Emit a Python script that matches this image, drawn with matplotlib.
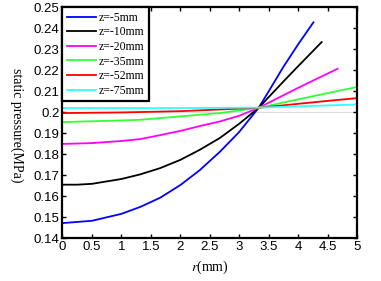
import matplotlib
matplotlib.use("Agg")
from matplotlib import pyplot as plt

labels = ["z=-5mm", "z=-10mm", "z=-20mm", "z=-35mm", "z=-52mm", "z=-75mm"]
colors = ["#0000ff", "#000000", "#ff00ff", "#33ff33", "#ff0000", "#33ffff"]

r_5 = [0, 0.5, 1, 1.32, 1.66, 2, 2.33, 2.67, 3, 3.33, 3.5, 3.75, 4, 4.26]
p_5 = [0.1471, 0.1482, 0.1515, 0.1548, 0.1592, 0.1652, 0.1723, 0.1810,
       0.1905, 0.2020, 0.2098, 0.2215, 0.2322, 0.2427]

r_10 = [0, 0.25, 0.5, 1, 1.32, 1.66, 2, 2.33, 2.67, 3, 3.33, 3.75, 4, 4.4]
p_10 = [0.1654, 0.1654, 0.1658, 0.1681, 0.1703, 0.1733, 0.1772, 0.1820,
        0.1876, 0.1944, 0.2020, 0.2145, 0.2218, 0.2333]

r_20 = [0, 0.5, 1, 1.32, 1.66, 2, 2.33, 2.67, 3, 3.33, 4, 4.67]
p_20 = [0.1848, 0.1852, 0.1862, 0.1871, 0.1890, 0.1910, 0.1933, 0.1955,
        0.1982, 0.2020, 0.2115, 0.2206]

r_35 = [0, 1, 1.32, 2, 2.67, 3.33, 4, 4.5, 5]
p_35 = [0.1952, 0.1960, 0.1963, 0.1979, 0.1995, 0.2020, 0.2060, 0.2090, 0.2119]

r_52 = [0, 1, 2, 3.33, 4, 4.5, 5]
p_52 = [0.1995, 0.1998, 0.2004, 0.2020, 0.2039, 0.2053, 0.2066]

r_75 = [0, 1, 2, 3.33, 4, 5]
p_75 = [0.2019, 0.2019, 0.2019, 0.2021, 0.2027, 0.2036]

x_ticks = [0, 0.5, 1, 1.5, 2, 2.5, 3, 3.5, 4, 4.5, 5]
y_ticks = [0.14, 0.15, 0.16, 0.17, 0.18, 0.19, 0.2, 0.21, 0.22, 0.23, 0.24, 0.25]

series = [(r_5, p_5), (r_10, p_10), (r_20, p_20), (r_35, p_35), (r_52, p_52), (r_75, p_75)]

plt.rcParams["font.family"] = ["Liberation Sans", "DejaVu Sans"]

fig = plt.figure(figsize=(3.81, 2.81), dpi=100)
ax = fig.add_axes([0.164, 0.153, 0.773, 0.822])

ax.axhline(0.2, color="#dddddd", lw=0.8, zorder=0)

for (r, p), c, lab in zip(series, colors, labels):
    ax.plot(r, p, color=c, lw=1.3, label=lab, solid_joinstyle="round")

ax.set_xlim(0, 5)
ax.set_ylim(0.14, 0.25)
ax.set_xticks(x_ticks)
ax.set_xticklabels([("%g" % t) for t in x_ticks])
ax.set_yticks(y_ticks)
ax.set_yticklabels([("%g" % t) for t in y_ticks])
ax.tick_params(direction="in", length=3, width=1, top=True, right=True,
               labelsize=9.5, pad=2)
for s in ax.spines.values():
    s.set_linewidth(1.6)

ax.set_xlabel(r"$r$(mm)", fontsize=10, family="Liberation Serif", labelpad=4)
ax.xaxis.label.set_math_fontfamily("stix")

fig.text(0.045, 0.555, "static pressure(MPa)", rotation=-90, fontsize=10,
         family="Liberation Serif", ha="center", va="center",
         bbox=dict(facecolor="white", edgecolor="none", pad=1.5), zorder=5)

leg = ax.legend(loc="upper left", borderaxespad=0, fancybox=False,
                prop={"family": "Liberation Serif", "size": 8.5},
                handlelength=2.4, handletextpad=0.3, labelspacing=0.22,
                borderpad=0.4, framealpha=1)
leg.get_frame().set_edgecolor("black")
leg.get_frame().set_linewidth(1.6)

fig.savefig("out.png", dpi=100)
